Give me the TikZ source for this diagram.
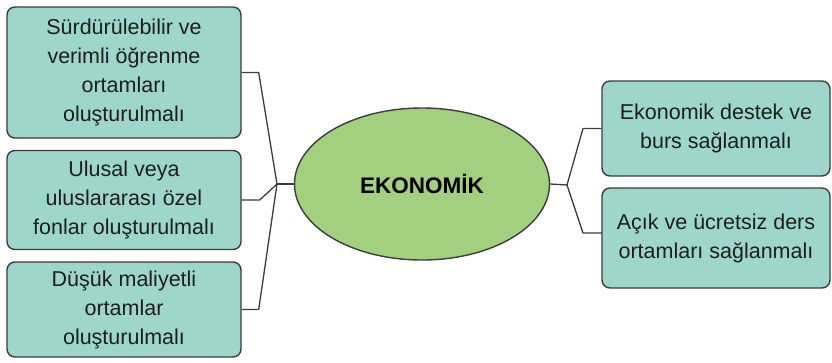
\documentclass[tikz,border=0pt]{standalone}
\usepackage{fontspec}
\setmainfont{Liberation Sans}
\usetikzlibrary{shapes.geometric,calc}
\definecolor{boxfill}{RGB}{158,214,204}
\definecolor{ellfill}{RGB}{163,208,127}
\definecolor{edge}{RGB}{60,60,60}
\definecolor{txt}{RGB}{30,30,30}
\tikzset{
  idea/.style={draw=edge, line width=1.4pt, fill=boxfill, rounded corners=8pt, text=txt,
    align=center, inner sep=2pt, font=\fontsize{21.5}{29}\selectfont},
  link/.style={draw=edge, line width=1.3pt, line join=round},
}
\begin{document}
\begin{tikzpicture}[x=1pt,y=-1pt]
\useasboundingbox (0,0) rectangle (832,362);
\node[idea, minimum width=234pt, minimum height=131pt] (b1) at (124,72.5) {Sürdürülebilir ve\\verimli öğrenme\\ortamları\\oluşturulmalı};
\node[idea, minimum width=234pt, minimum height=99pt] (b2) at (124,200) {Ulusal veya\\uluslararası özel\\fonlar oluşturulmalı};
\node[idea, minimum width=234pt, minimum height=95pt] (b3) at (124,309.5) {Düşük maliyetli\\ortamlar\\oluşturulmalı};
\node[idea, minimum width=228pt, minimum height=95pt] (r1) at (716,128.5) {Ekonomik destek ve\\burs sağlanmalı};
\node[idea, minimum width=228pt, minimum height=100pt] (r2) at (716,238) {Açık ve ücretsiz ders\\ortamları sağlanmalı};
\node[ellipse, draw=edge, line width=1.4pt, fill=ellfill, minimum width=255pt, minimum height=152pt, inner sep=0pt, text=black, font=\bfseries\fontsize{22.5}{26}\selectfont] (eco) at (422,184) {EKONOMİK};
\coordinate (jl) at (277,184);
\coordinate (jr) at (567,185);
\coordinate (r2in) at (602,233);
\draw[link] (b1.east) -- ++(17,0) -- (jl);
\draw[link] (b2.east) -- ++(18,0) -- (jl);
\draw[link] (b3.east) -- ++(17,0) -- (jl);
\draw[link] (jl) -- (eco.west);
\draw[link] (eco.east) -- (jr);
\draw[link] (jr) -- (583,128.5) -- (r1.west);
\draw[link] (jr) -- (583,233) -- (r2in);
\end{tikzpicture}
\end{document}
